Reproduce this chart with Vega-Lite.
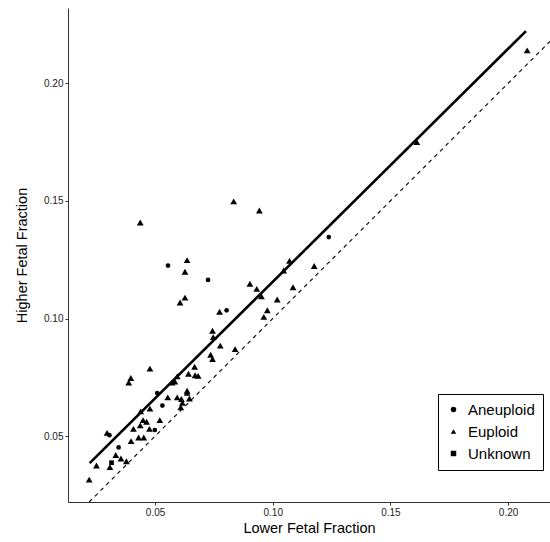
{
  "$schema": "https://vega.github.io/schema/vega-lite/v6.json",
  "width": 482,
  "height": 494,
  "padding": {"left": 68, "top": 8, "right": 0, "bottom": 40},
  "autosize": {"type": "none"},
  "config": {
    "view": {"stroke": null},
    "font": "Liberation Sans",
    "axis": {"grid": false, "domainColor": "#333333", "tickColor": "#333333", "labelColor": "#222222", "titleColor": "#000000", "titleFontWeight": "normal"}
  },
  "datasets": {
    "points": [
      {"lower": 0.2081, "higher": 0.2140, "Type": "Euploid"},
      {"lower": 0.1612, "higher": 0.1750, "Type": "Euploid"},
      {"lower": 0.0834, "higher": 0.1498, "Type": "Euploid"},
      {"lower": 0.0943, "higher": 0.1459, "Type": "Euploid"},
      {"lower": 0.0437, "higher": 0.1408, "Type": "Euploid"},
      {"lower": 0.0636, "higher": 0.1248, "Type": "Euploid"},
      {"lower": 0.0627, "higher": 0.1199, "Type": "Euploid"},
      {"lower": 0.0627, "higher": 0.1089, "Type": "Euploid"},
      {"lower": 0.0606, "higher": 0.1068, "Type": "Euploid"},
      {"lower": 0.1071, "higher": 0.1245, "Type": "Euploid"},
      {"lower": 0.1046, "higher": 0.1204, "Type": "Euploid"},
      {"lower": 0.1176, "higher": 0.1223, "Type": "Euploid"},
      {"lower": 0.1086, "higher": 0.1133, "Type": "Euploid"},
      {"lower": 0.0903, "higher": 0.1148, "Type": "Euploid"},
      {"lower": 0.0932, "higher": 0.1126, "Type": "Euploid"},
      {"lower": 0.0952, "higher": 0.1094, "Type": "Euploid"},
      {"lower": 0.1019, "higher": 0.1081, "Type": "Euploid"},
      {"lower": 0.0977, "higher": 0.1035, "Type": "Euploid"},
      {"lower": 0.0962, "higher": 0.1007, "Type": "Euploid"},
      {"lower": 0.0774, "higher": 0.1029, "Type": "Euploid"},
      {"lower": 0.0744, "higher": 0.0948, "Type": "Euploid"},
      {"lower": 0.0747, "higher": 0.0921, "Type": "Euploid"},
      {"lower": 0.0777, "higher": 0.0885, "Type": "Euploid"},
      {"lower": 0.0840, "higher": 0.0870, "Type": "Euploid"},
      {"lower": 0.0736, "higher": 0.0846, "Type": "Euploid"},
      {"lower": 0.0744, "higher": 0.0828, "Type": "Euploid"},
      {"lower": 0.0478, "higher": 0.0787, "Type": "Euploid"},
      {"lower": 0.0397, "higher": 0.0747, "Type": "Euploid"},
      {"lower": 0.0388, "higher": 0.0728, "Type": "Euploid"},
      {"lower": 0.0668, "higher": 0.0795, "Type": "Euploid"},
      {"lower": 0.0642, "higher": 0.0765, "Type": "Euploid"},
      {"lower": 0.0670, "higher": 0.0759, "Type": "Euploid"},
      {"lower": 0.0683, "higher": 0.0756, "Type": "Euploid"},
      {"lower": 0.0594, "higher": 0.0754, "Type": "Euploid"},
      {"lower": 0.0572, "higher": 0.0728, "Type": "Euploid"},
      {"lower": 0.0584, "higher": 0.0732, "Type": "Euploid"},
      {"lower": 0.0554, "higher": 0.0665, "Type": "Euploid"},
      {"lower": 0.0594, "higher": 0.0665, "Type": "Euploid"},
      {"lower": 0.0612, "higher": 0.0658, "Type": "Euploid"},
      {"lower": 0.0636, "higher": 0.0693, "Type": "Euploid"},
      {"lower": 0.0636, "higher": 0.0684, "Type": "Euploid"},
      {"lower": 0.0616, "higher": 0.0642, "Type": "Euploid"},
      {"lower": 0.0609, "higher": 0.0623, "Type": "Euploid"},
      {"lower": 0.0646, "higher": 0.0660, "Type": "Euploid"},
      {"lower": 0.0478, "higher": 0.0617, "Type": "Euploid"},
      {"lower": 0.0439, "higher": 0.0605, "Type": "Euploid"},
      {"lower": 0.0520, "higher": 0.0568, "Type": "Euploid"},
      {"lower": 0.0408, "higher": 0.0531, "Type": "Euploid"},
      {"lower": 0.0449, "higher": 0.0568, "Type": "Euploid"},
      {"lower": 0.0464, "higher": 0.0561, "Type": "Euploid"},
      {"lower": 0.0437, "higher": 0.0546, "Type": "Euploid"},
      {"lower": 0.0476, "higher": 0.0531, "Type": "Euploid"},
      {"lower": 0.0430, "higher": 0.0494, "Type": "Euploid"},
      {"lower": 0.0452, "higher": 0.0494, "Type": "Euploid"},
      {"lower": 0.0398, "higher": 0.0479, "Type": "Euploid"},
      {"lower": 0.0296, "higher": 0.0514, "Type": "Euploid"},
      {"lower": 0.0251, "higher": 0.0375, "Type": "Euploid"},
      {"lower": 0.0220, "higher": 0.0315, "Type": "Euploid"},
      {"lower": 0.0308, "higher": 0.0368, "Type": "Euploid"},
      {"lower": 0.0333, "higher": 0.0420, "Type": "Euploid"},
      {"lower": 0.0355, "higher": 0.0405, "Type": "Euploid"},
      {"lower": 0.0378, "higher": 0.0393, "Type": "Euploid"},
      {"lower": 0.1238, "higher": 0.1346, "Type": "Aneuploid"},
      {"lower": 0.0555, "higher": 0.1225, "Type": "Aneuploid"},
      {"lower": 0.0725, "higher": 0.1164, "Type": "Aneuploid"},
      {"lower": 0.0804, "higher": 0.1035, "Type": "Aneuploid"},
      {"lower": 0.0509, "higher": 0.0683, "Type": "Aneuploid"},
      {"lower": 0.0531, "higher": 0.0630, "Type": "Aneuploid"},
      {"lower": 0.0499, "higher": 0.0526, "Type": "Aneuploid"},
      {"lower": 0.0345, "higher": 0.0452, "Type": "Aneuploid"},
      {"lower": 0.0306, "higher": 0.0504, "Type": "Aneuploid"},
      {"lower": 0.0315, "higher": 0.0387, "Type": "Unknown"}
    ],
    "identity": [
      {"lower": 0.022, "higher": 0.022},
      {"lower": 0.2178, "higher": 0.2178}
    ],
    "fit": [
      {"lower": 0.0222, "higher": 0.0385},
      {"lower": 0.2076, "higher": 0.2222}
    ]
  },
  "layer": [
    {
      "data": {"name": "identity"},
      "mark": {"type": "line", "color": "black", "strokeWidth": 1.1, "strokeDash": [4, 4], "clip": true},
      "encoding": {
        "x": {"field": "lower", "type": "quantitative"},
        "y": {"field": "higher", "type": "quantitative"}
      }
    },
    {
      "data": {"name": "fit"},
      "mark": {"type": "line", "color": "black", "strokeWidth": 2.6},
      "encoding": {
        "x": {"field": "lower", "type": "quantitative"},
        "y": {"field": "higher", "type": "quantitative"}
      }
    },
    {
      "data": {"name": "points"},
      "mark": {"type": "point", "filled": true, "color": "black", "opacity": 1},
      "encoding": {
        "x": {
          "field": "lower", "type": "quantitative",
          "scale": {"domain": [0.013, 0.2178], "nice": false, "zero": false},
          "axis": {"values": [0.05, 0.1, 0.15, 0.2], "format": ".2f", "title": "Lower Fetal Fraction", "titleFontSize": 14.5, "labelFontSize": 10, "tickSize": 3, "titlePadding": 4}
        },
        "y": {
          "field": "higher", "type": "quantitative",
          "scale": {"domain": [0.022, 0.232], "nice": false, "zero": false},
          "axis": {"values": [0.05, 0.1, 0.15, 0.2], "format": ".2f", "title": "Higher Fetal Fraction", "titleFontSize": 14.5, "labelFontSize": 10, "tickSize": 3, "titlePadding": 14}
        },
        "size": {"condition": {"test": "datum.Type === 'Euploid'", "value": 46}, "value": 22},
        "shape": {
          "field": "Type", "type": "nominal",
          "scale": {"domain": ["Aneuploid", "Euploid", "Unknown"], "range": ["circle", "triangle-up", "square"]},
          "legend": {
            "title": null, "orient": "none", "legendX": 370, "legendY": 386,
            "strokeColor": "black", "padding": 8, "labelFontSize": 15, "labelColor": "black",
            "rowPadding": 6, "symbolFillColor": "black", "symbolStrokeColor": "black", "symbolSize": 30, "labelOffset": 7
          }
        }
      }
    }
  ]
}
